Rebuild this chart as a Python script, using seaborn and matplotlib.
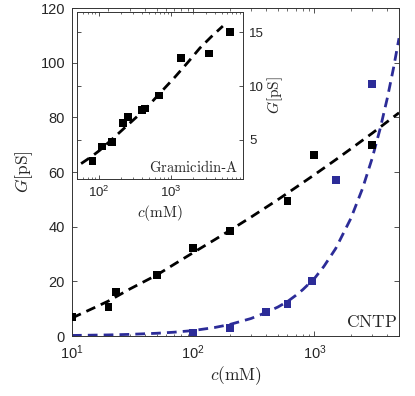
import matplotlib
matplotlib.use('Agg')
import matplotlib.pyplot as plt
import seaborn as sns
from matplotlib.ticker import LogLocator, NullFormatter, FixedLocator

# ---- main panel (CNTP) data ----
black_c = [10, 20, 23, 50, 100, 200, 600, 1000, 3000]
black_G = [7.0, 10.6, 16.1, 22.3, 32.3, 38.4, 49.4, 66.2, 70.0]
blue_c = [100, 200, 400, 600, 950, 1500, 3000]
blue_G = [1.2, 3.0, 8.8, 11.6, 20.1, 57.1, 92.1]

black_fit_c = [10, 15, 20, 30, 50, 70, 100, 150, 200, 300, 500, 700,
               1000, 1500, 2000, 3000, 5000]
black_fit_G = [6.6, 10.2, 12.8, 17.2, 22.3, 26.3, 30.5, 35.2, 38.6, 43.5,
               49.9, 54.3, 59.0, 64.5, 68.5, 74.2, 81.7]
blue_fit_c = [10, 20, 30, 50, 70, 100, 150, 200, 300, 400, 500, 600, 700,
              800, 1000, 1200, 1500, 2000, 2500, 3000, 3500, 4000, 4500, 5000]
blue_fit_G = [0.2, 0.4, 0.6, 1.0, 1.4, 2.0, 3.1, 4.2, 6.4, 8.6, 10.6, 12.6,
              14.8, 16.9, 21.0, 25.5, 32.0, 43.0, 54.0, 65.0, 76.0, 87.0,
              98.0, 109.0]

# ---- inset (Gramicidin-A) data ----
gram_c = [82, 111, 154, 214, 252, 399, 434, 675, 1365, 3360, 6440]
gram_G = [3.0, 4.37, 4.79, 6.57, 7.09, 7.74, 7.92, 9.12, 12.6, 13.04, 15.06]
gram_fit_c = [57, 80, 104, 150, 230, 350, 509, 750, 1130, 1700, 2500, 3600, 5200]
gram_fit_G = [2.78, 3.45, 4.04, 5.0, 6.14, 7.25, 8.32, 9.55, 10.84, 12.2,
              13.54, 14.6, 15.59]

main_yticks = [0, 20, 40, 60, 80, 100, 120]
main_xticks = [10, 100, 1000]
inset_yticks = [5, 10, 15]
inset_xticks = [100, 1000]

sns.set_theme(style='ticks')
plt.rcParams['font.family'] = ['Liberation Sans', 'DejaVu Sans']
plt.rcParams['mathtext.fontset'] = 'cm'
plt.rcParams['axes.edgecolor'] = '#333333'
plt.rcParams['axes.linewidth'] = 0.7
plt.rcParams['xtick.color'] = '#333333'
plt.rcParams['ytick.color'] = '#333333'
plt.rcParams['xtick.labelcolor'] = '#262626'
plt.rcParams['ytick.labelcolor'] = '#262626'

BLUE = '#2c2c98'
DASH = (0, (3.5, 2.2))

fig = plt.figure(figsize=(4.15, 3.96), dpi=100)
ax = fig.add_axes([0.1735, 0.1515, 0.788, 0.828])
ax.set_xscale('log')

sns.lineplot(x=black_fit_c, y=black_fit_G, ax=ax, color='black', lw=2.0,
             linestyle=DASH, estimator=None, sort=False)
sns.lineplot(x=blue_fit_c, y=blue_fit_G, ax=ax, color=BLUE, lw=2.0,
             linestyle=DASH, estimator=None, sort=False)
sns.scatterplot(x=black_c, y=black_G, ax=ax, marker='s', s=32, color='black',
                edgecolor='none', linewidth=0, zorder=5)
sns.scatterplot(x=blue_c, y=blue_G, ax=ax, marker='s', s=32, color=BLUE,
                edgecolor='none', linewidth=0, zorder=5)

ax.set_xlim(10, 5000)
ax.set_ylim(0, 120)
ax.yaxis.set_major_locator(FixedLocator(main_yticks))
ax.xaxis.set_major_locator(FixedLocator(main_xticks))
ax.xaxis.set_minor_locator(LogLocator(base=10, subs=range(2, 10), numticks=20))
ax.xaxis.set_minor_formatter(NullFormatter())
ax.tick_params(which='both', direction='in', top=True, right=True)
ax.tick_params(which='major', length=3.5, width=0.6, labelsize=10.5, pad=5)
ax.tick_params(which='minor', length=1.8, width=0.5)
ax.set_xlabel(r'$c(\mathrm{mM})$', fontsize=12.5, labelpad=2)
ax.set_ylabel(r'$G[\mathrm{pS}]$', fontsize=12.5, labelpad=4)
ax.text(0.994, 0.043, r'$\mathrm{CNTP}$', transform=ax.transAxes,
        ha='right', va='center', fontsize=12.5)
for s in ax.spines.values():
    s.set_visible(True)

# ---- inset ----
ax2 = fig.add_axes([0.1855, 0.548, 0.401, 0.4217])
ax2.set_facecolor('white')
ax2.set_xscale('log')
sns.lineplot(x=gram_fit_c, y=gram_fit_G, ax=ax2, color='black', lw=2.0,
             linestyle=DASH, estimator=None, sort=False)
sns.scatterplot(x=gram_c, y=gram_G, ax=ax2, marker='s', s=32, color='black',
                edgecolor='none', linewidth=0, zorder=5)
ax2.set_xlim(50, 10000)
ax2.set_ylim(1.35, 16.9)
ax2.yaxis.set_major_locator(FixedLocator(inset_yticks))
ax2.xaxis.set_major_locator(FixedLocator(inset_xticks))
ax2.xaxis.set_minor_locator(LogLocator(base=10, subs=range(2, 10), numticks=20))
ax2.xaxis.set_minor_formatter(NullFormatter())
ax2.tick_params(which='both', direction='in', top=True, right=True, left=True,
                labelleft=False, labelright=True)
ax2.tick_params(which='major', length=3, width=0.6, labelsize=9.5, pad=4)
ax2.tick_params(which='minor', length=1.5, width=0.5)
ax2.yaxis.set_label_position('right')
ax2.set_xlabel(r'$c(\mathrm{mM})$', fontsize=11, labelpad=2)
ax2.set_ylabel(r'$G[\mathrm{pS}]$', fontsize=11, labelpad=1)
ax2.text(0.967, 0.072, r'$\mathrm{Gramicidin}$-$\mathrm{A}$', transform=ax2.transAxes,
         ha='right', va='center', fontsize=10.5)
for s in ax2.spines.values():
    s.set_visible(True)

fig.savefig('out.png', dpi=100)
